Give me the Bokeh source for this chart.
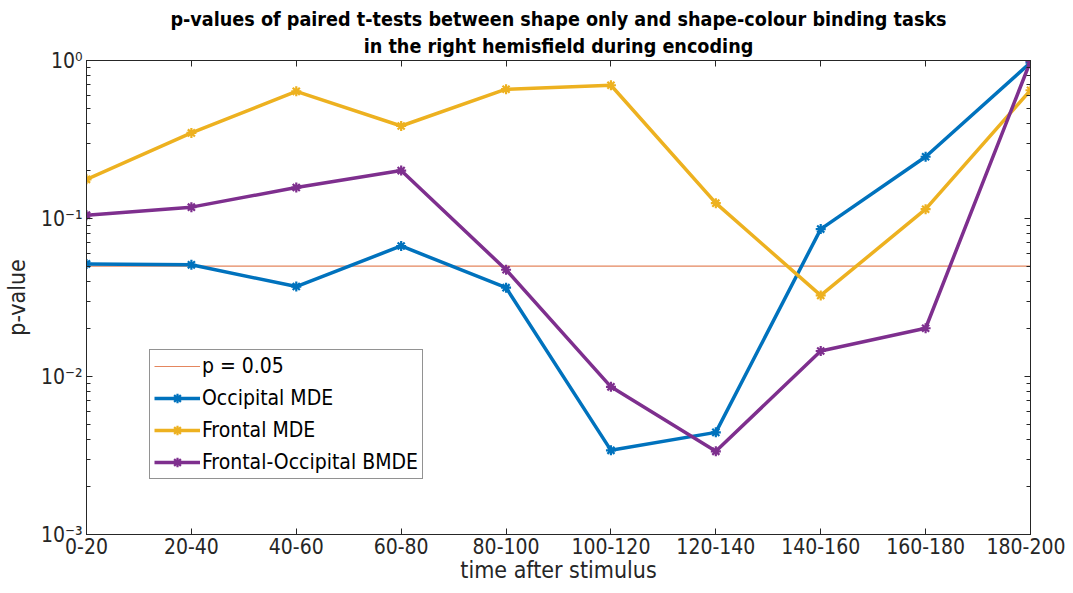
from bokeh.plotting import figure
from bokeh.models import (Range1d, FixedTicker, LogAxis, LinearAxis, Legend, LegendItem,
                          LogTicker, Title)
from bokeh.embed import file_html
from bokeh.resources import INLINE

categories = ["0-20", "20-40", "40-60", "60-80", "80-100", "100-120",
              "120-140", "140-160", "160-180", "180-200"]
occipital = [0.0516, 0.0509, 0.0371, 0.067, 0.0365, 0.00341, 0.00443, 0.0857, 0.246, 0.97]
frontal = [0.177, 0.348, 0.638, 0.385, 0.658, 0.697, 0.125, 0.0326, 0.1145, 0.648]
bmde = [0.105, 0.118, 0.157, 0.201, 0.0474, 0.0086, 0.00336, 0.0145, 0.0202, 0.99]
threshold = 0.05
y_ticks = [0.001, 0.01, 0.1, 1.0]
y_tick_labels = ["10⁻³", "10⁻²", "10⁻¹", "10⁰"]

FONT = "'DejaVu Sans Condensed', 'Liberation Sans', sans-serif"
xs = list(range(len(categories)))

p = figure(width=1065, height=585, output_backend="svg", toolbar_location=None,
           y_axis_type="log", x_range=Range1d(0, len(categories) - 1),
           y_range=Range1d(1e-3, 1.0),
           min_border_left=75, min_border_right=35, min_border_bottom=47, min_border_top=60)

p.title.text = "p-values of paired t-tests between shape only and shape-colour binding tasks"
p.title.align = "center"
p.title.text_font = FONT
p.title.text_font_size = "19.6px"
p.title.text_font_style = "bold"
p.title.text_color = "#000000"
p.title.standoff = 0

p.xgrid.visible = False
p.ygrid.visible = False
p.outline_line_color = "#262626"
p.background_fill_color = "white"
p.border_fill_color = "white"

# bottom axis
xa = p.xaxis[0]
xa.ticker = FixedTicker(ticks=xs)
xa.major_label_overrides = {i: c for i, c in enumerate(categories)}
xa.axis_label = "time after stimulus"

ya = p.yaxis[0]
ya.ticker = LogTicker(desired_num_ticks=4, num_minor_ticks=10)
ya.major_label_overrides = {t: l for t, l in zip(y_ticks, y_tick_labels)}
ya.axis_label = "p-value"

for ax in (xa, ya):
    ax.axis_line_color = "#262626"
    ax.major_tick_line_color = "#262626"
    ax.minor_tick_line_color = "#262626"
    ax.major_tick_in = 6
    ax.major_tick_out = 0
    ax.minor_tick_in = 4
    ax.minor_tick_out = 0
    ax.major_label_text_font = FONT
    ax.major_label_text_font_size = "21px"
    ax.major_label_text_color = "#262626"
    ax.axis_label_text_font = FONT
    ax.axis_label_text_font_size = "23px"
    ax.axis_label_text_font_style = "normal"
    ax.axis_label_text_color = "#262626"
xa.minor_tick_line_color = None
xa.major_label_standoff = 3
xa.axis_label_standoff = 0
ya.major_label_standoff = 4
ya.axis_label_standoff = 8

# top and right box ticks (no labels)
top = LinearAxis(ticker=FixedTicker(ticks=xs), major_label_overrides={i: "" for i in xs},
                 major_label_text_font_size="1px",
                 major_tick_in=6, major_tick_out=0, major_label_standoff=0,
                 axis_line_color="#262626",
                 major_tick_line_color="#262626", minor_tick_line_color=None)
p.add_layout(top, "above")
p.add_layout(Title(text="in the right hemisfield during encoding", align="center",
                   text_font=FONT, text_font_size="19.6px", text_font_style="bold",
                   text_color="#000000", standoff=5), "above")
right = LogAxis(ticker=LogTicker(desired_num_ticks=4, num_minor_ticks=10),
                major_label_overrides={t: "" for t in y_ticks}, major_label_standoff=0,
                major_label_text_font_size="1px",
                major_tick_in=6, major_tick_out=0, minor_tick_in=4, minor_tick_out=0,
                axis_line_color="#262626", major_tick_line_color="#262626",
                minor_tick_line_color="#262626")
p.add_layout(right, "right")

thr = p.line([xs[0], xs[-1]], [threshold, threshold], line_color="#D95319",
             line_width=1.2, line_alpha=0.7)

series = [("Occipital MDE", occipital, "#0072BD"),
          ("Frontal MDE", frontal, "#EDB120"),
          ("Frontal-Occipital BMDE", bmde, "#7E2F8E")]
items = [LegendItem(label="p = 0.05", renderers=[thr])]
for name, vals, col in series:
    l = p.line(xs, vals, line_color=col, line_width=3.5)
    s = p.scatter(xs, vals, marker="asterisk", size=10, line_color=col, line_width=2.2)
    items.append(LegendItem(label=name, renderers=[l, s]))

leg = Legend(items=items, location=(63, 55), label_text_font=FONT,
             label_text_font_size="21px", label_text_color="#000000",
             glyph_width=46, glyph_height=24, spacing=8, padding=4,
             label_standoff=2, border_line_color="#262626", border_line_width=1,
             background_fill_alpha=1.0, margin=0)
p.add_layout(leg, "center")

open("out.html", "w").write(file_html(p, INLINE))
